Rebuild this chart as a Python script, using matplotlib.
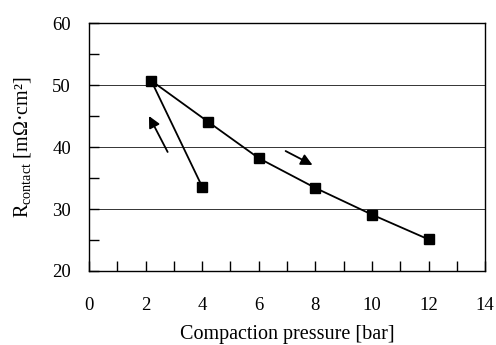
import matplotlib.pyplot as plt
from matplotlib.ticker import MultipleLocator

plt.rcParams['font.family'] = ['Liberation Serif', 'DejaVu Serif']
plt.rcParams['mathtext.fontset'] = 'custom'
plt.rcParams['mathtext.rm'] = 'Liberation Serif'

# measured points, in the order they were taken (unload then load)
pressure = [4.0, 2.2, 4.2, 6.0, 8.0, 10.0, 12.0]
r_contact = [33.6, 50.7, 44.1, 38.2, 33.4, 29.1, 25.1]

# direction arrows (tail -> head), data coords
arrow_tails = [(2.78, 39.2), (6.95, 39.35)]
arrow_heads = [(2.12, 45.0), (7.9, 37.1)]

fig = plt.figure(figsize=(4.96, 3.45), dpi=100)
ax = fig.add_axes([0.1794, 0.2145, 0.7986, 0.7188])

ax.plot(pressure, r_contact, color='k', lw=1.3, marker='s', ms=7.5,
        markerfacecolor='k', markeredgecolor='k', zorder=3)

for t, h in zip(arrow_tails, arrow_heads):
    ax.annotate('', xy=h, xytext=t,
                arrowprops=dict(arrowstyle='-|>', color='k', lw=1.3,
                                mutation_scale=17, shrinkA=0, shrinkB=0))

ax.set_xlim(0, 14)
ax.set_ylim(20, 60)
ax.xaxis.set_major_locator(MultipleLocator(2))
ax.xaxis.set_minor_locator(MultipleLocator(1))
ax.yaxis.set_major_locator(MultipleLocator(10))
ax.yaxis.set_minor_locator(MultipleLocator(5))

ax.tick_params(axis='x', which='both', direction='in', length=7, width=1,
               pad=19, labelsize=13.5)
ax.tick_params(axis='y', which='both', direction='in', length=7, width=1,
               pad=13, labelsize=13.5)

ax.grid(axis='y', which='major', color='#333333', lw=0.7)
ax.get_ygridlines()[1].set_color('#999999')
ax.set_axisbelow(True)

for s in ax.spines.values():
    s.set_linewidth(1.0)
    s.set_color('k')

ax.set_xlabel('Compaction pressure [bar]', fontsize=14.5, labelpad=8)
ax.set_ylabel(r'R$_{\mathrm{contact}}$ [mΩ·cm²]', fontsize=14.5, labelpad=14)

plt.savefig('out.png', dpi=100)
